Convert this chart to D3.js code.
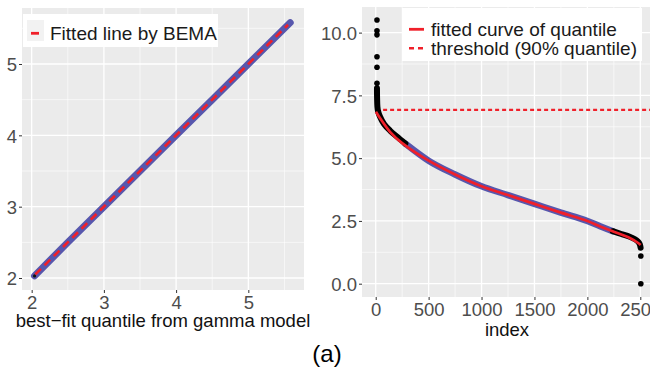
<!DOCTYPE html>
<html><head><meta charset="utf-8">
<script src="https://cdn.jsdelivr.net/npm/d3@7"></script>
<style>
body{margin:0;background:#fff}
svg{display:block}
text{font-family:"Liberation Sans",Arial,Helvetica,sans-serif}
</style>
</head><body>
<svg id="c" width="650" height="373"></svg>
<script>
// ---------- Left panel data (Q-Q against gamma model) ----------
const qqX = [2.04, 2.5, 3.0, 3.5, 4.0, 4.5, 5.0, 5.58];
const qqY = [2.03, 2.5, 3.0, 3.5, 4.0, 4.5, 5.0, 5.58];
const qqFitX = [2.05, 5.55];
const qqFitY = [2.05, 5.55];
const qqXTicks = [2, 3, 4, 5];
const qqYTicks = [2, 3, 4, 5];
const qqXMinor = [2.5, 3.5, 4.5, 5.5];
const qqYMinor = [2.5, 3.5, 4.5, 5.5];
const qqLegend = ["Fitted line by BEMA"];
const qqXTitle = "best\u2212fit quantile from gamma model";

// ---------- Right panel data (sorted observations vs fitted quantile) ----------
const outHighIdx = [12, 12, 12, 12, 12, 12];
const outHighVal = [10.5, 10.07, 9.91, 9.04, 8.62, 7.98];
const tailTopIdx = [12, 13, 16, 22, 40, 80, 135, 200, 280];
const tailTopVal = [7.78, 7.4, 7.05, 6.88, 6.66, 6.35, 6.1, 5.86, 5.58];
const midIdx = [280, 500, 750, 1000, 1250, 1500, 1750, 2000, 2120, 2240];
const midVal = [5.58, 4.9, 4.35, 3.88, 3.53, 3.18, 2.83, 2.5, 2.29, 2.09];
const tailBotIdx = [2240, 2320, 2400, 2450, 2480, 2495, 2503];
const tailBotVal = [2.09, 1.98, 1.87, 1.77, 1.67, 1.57, 1.43];
const outLowIdx = [2505, 2505];
const outLowVal = [1.1, 0.0];
const fitIdx = [2, 40, 135, 250, 500, 750, 1000, 1250, 1500, 1750, 2000, 2120, 2250, 2405, 2480, 2503];
const fitVal = [6.85, 6.6, 6.05, 5.6, 4.9, 4.35, 3.88, 3.53, 3.18, 2.83, 2.5, 2.28, 2.07, 1.81, 1.62, 1.54];
const threshold = 6.92;
const thresholdFrom = 70;
const thresholdTo = 2650;
const rXTicks = [0, 500, 1000, 1500, 2000, 2500];
const rYTicks = [0, 2.5, 5, 7.5, 10];
const rXMinor = [250, 750, 1250, 1750, 2250];
const rYMinor = [1.25, 3.75, 6.25, 8.75];
const rLegend = ["fitted curve of quantile", "threshold (90% quantile)"];
const rXTitle = "index";
const caption = "(a)";

// ---------- styling ----------
const FS = 18.5, LFS = 19;
const BG = "#EBEBEB", BLUE = "#5757AD", RED = "#F0202A", TICKC = "#4D4D4D";

const svg = d3.select("#c");

function panel(opt) {
  const g = svg.append("g");
  const {x, y, x0, x1, y0, y1} = opt;
  const clipId = opt.id + "clip";
  svg.append("clipPath").attr("id", clipId)
    .append("rect").attr("x", x0).attr("y", y0).attr("width", x1 - x0).attr("height", y1 - y0);
  g.append("rect").attr("x", x0).attr("y", y0).attr("width", x1 - x0).attr("height", y1 - y0).attr("fill", BG);
  const grid = g.append("g").attr("clip-path", `url(#${clipId})`);
  opt.xMinor.forEach(v => grid.append("line").attr("x1", x(v)).attr("x2", x(v)).attr("y1", y0).attr("y2", y1).attr("stroke", "#fff").attr("stroke-width", 0.6));
  opt.yMinor.forEach(v => grid.append("line").attr("y1", y(v)).attr("y2", y(v)).attr("x1", x0).attr("x2", x1).attr("stroke", "#fff").attr("stroke-width", 0.6));
  opt.xTicks.forEach(v => grid.append("line").attr("x1", x(v)).attr("x2", x(v)).attr("y1", y0).attr("y2", y1).attr("stroke", "#fff").attr("stroke-width", 1.3));
  opt.yTicks.forEach(v => grid.append("line").attr("y1", y(v)).attr("y2", y(v)).attr("x1", x0).attr("x2", x1).attr("stroke", "#fff").attr("stroke-width", 1.3));
  const ax = d3.axisBottom(x).tickValues(opt.xTicks).tickFormat(opt.xFmt).tickSize(3).tickPadding(2);
  const axg = g.append("g").attr("transform", `translate(0,${y1})`).call(ax);
  axg.select(".domain").remove();
  axg.selectAll("line").attr("stroke", "#333").attr("stroke-width", 1);
  axg.selectAll("text").attr("fill", TICKC).attr("font-size", FS).attr("font-family", "Liberation Sans, Arial, sans-serif").attr("dy", "0.74em");
  const ay = d3.axisLeft(y).tickValues(opt.yTicks).tickFormat(opt.yFmt).tickSize(3).tickPadding(2);
  const ayg = g.append("g").attr("transform", `translate(${x0},0)`).call(ay);
  ayg.select(".domain").remove();
  ayg.selectAll("line").attr("stroke", "#333").attr("stroke-width", 1);
  ayg.selectAll("text").attr("fill", TICKC).attr("font-size", FS).attr("font-family", "Liberation Sans, Arial, sans-serif").attr("dy", "0.36em");
  return g.append("g").attr("clip-path", `url(#${clipId})`);
}

// ---------- Left panel ----------
{
  const x0 = 22, x1 = 304, y0 = 8, y1 = 290;
  const x = d3.scaleLinear().domain([1.866, 5.771]).range([x0, x1]);
  const y = d3.scaleLinear().domain([1.832, 5.785]).range([y1, y0]);
  const plot = panel({id: "L", x, y, x0, x1, y0, y1, xTicks: qqXTicks, yTicks: qqYTicks, xMinor: qqXMinor, yMinor: qqYMinor,
    xFmt: d3.format("d"), yFmt: d3.format("d")});
  const pts = qqX.map((v, i) => [v, qqY[i]]);
  const line = d3.line().x(d => x(d[0])).y(d => y(d[1]));
  plot.append("path").attr("d", line(pts)).attr("fill", "none").attr("stroke", BLUE)
    .attr("stroke-width", 7).attr("stroke-linecap", "round").attr("stroke-linejoin", "round");
  plot.append("circle").attr("cx", x(qqX[0])).attr("cy", y(qqY[0])).attr("r", 1.6).attr("fill", "#111");
  const fit = qqFitX.map((v, i) => [v, qqFitY[i]]);
  plot.append("path").attr("d", line(fit)).attr("fill", "none").attr("stroke", RED)
    .attr("stroke-width", 2.6).attr("stroke-dasharray", "8,5");
  const lg = svg.append("g");
  lg.append("rect").attr("x", 23).attr("y", 14).attr("width", 195).attr("height", 33).attr("fill", "#fff");
  lg.append("rect").attr("x", 27).attr("y", 20).attr("width", 17).attr("height", 21).attr("fill", "#F2F2F2");
  lg.append("line").attr("x1", 31).attr("x2", 39).attr("y1", 33.3).attr("y2", 33.3).attr("stroke", RED).attr("stroke-width", 2.8);
  lg.append("text").attr("x", 50).attr("y", 40).attr("font-size", LFS).attr("fill", "#1a1a1a").text(qqLegend[0]);
  svg.append("text").attr("x", (x0 + x1) / 2).attr("y", 326.5).attr("text-anchor", "middle").attr("font-size", FS).attr("fill", "#111").text(qqXTitle);
}

// ---------- Right panel ----------
{
  const x0 = 362, x1 = 653, y0 = 7, y1 = 297;
  const x = d3.scaleLinear().domain([-129.5, 2620]).range([x0, x1]);
  const y = d3.scaleLinear().domain([-0.53, 11.02]).range([y1, y0]);
  const plot = panel({id: "R", x, y, x0, x1, y0, y1, xTicks: rXTicks, yTicks: rYTicks, xMinor: rXMinor, yMinor: rYMinor,
    xFmt: d3.format("d"), yFmt: d3.format(".1f")});
  const line = d3.line().x(d => x(d[0])).y(d => y(d[1])).curve(d3.curveMonotoneX);
  const cr = d3.line().x(d => x(d[0])).y(d => y(d[1])).curve(d3.curveCatmullRom);
  const mid = midIdx.map((v, i) => [v, midVal[i]]);
  plot.append("path").attr("d", line(mid)).attr("fill", "none").attr("stroke", BLUE)
    .attr("stroke-width", 6.5).attr("stroke-linecap", "round");
  const top = tailTopIdx.map((v, i) => [v, tailTopVal[i]]);
  plot.append("path").attr("d", cr(top)).attr("fill", "none").attr("stroke", "#000")
    .attr("stroke-width", 6).attr("stroke-linecap", "round").attr("stroke-linejoin", "round");
  const bot = tailBotIdx.map((v, i) => [v, tailBotVal[i]]);
  plot.append("path").attr("d", cr(bot)).attr("fill", "none").attr("stroke", "#000")
    .attr("stroke-width", 6).attr("stroke-linecap", "round").attr("stroke-linejoin", "round");
  outHighIdx.forEach((v, i) => plot.append("circle").attr("cx", x(v)).attr("cy", y(outHighVal[i])).attr("r", 2.8).attr("fill", "#000"));
  outLowIdx.forEach((v, i) => plot.append("circle").attr("cx", x(v)).attr("cy", y(outLowVal[i])).attr("r", 2.8).attr("fill", "#000"));
  const fit = fitIdx.map((v, i) => [v, fitVal[i]]);
  plot.append("path").attr("d", cr(fit)).attr("fill", "none").attr("stroke", RED).attr("stroke-width", 2.7);
  plot.append("line").attr("x1", x(thresholdFrom)).attr("x2", x(thresholdTo)).attr("y1", y(threshold)).attr("y2", y(threshold))
    .attr("stroke", RED).attr("stroke-width", 2.2).attr("stroke-dasharray", "4,3");
  const lg = svg.append("g");
  lg.append("rect").attr("x", 402).attr("y", 8).attr("width", 240).attr("height", 53).attr("fill", "#fff");
  lg.append("line").attr("x1", 409).attr("x2", 424).attr("y1", 29.3).attr("y2", 29.3).attr("stroke", RED).attr("stroke-width", 2.8);
  lg.append("line").attr("x1", 409).attr("x2", 424).attr("y1", 48.3).attr("y2", 48.3).attr("stroke", RED).attr("stroke-width", 2.4).attr("stroke-dasharray", "5,4");
  lg.append("text").attr("x", 431).attr("y", 35.5).attr("font-size", LFS).attr("fill", "#1a1a1a").text(rLegend[0]);
  lg.append("text").attr("x", 431).attr("y", 54.5).attr("font-size", LFS).attr("fill", "#1a1a1a").text(rLegend[1]);
  svg.append("text").attr("x", 507).attr("y", 336).attr("text-anchor", "middle").attr("font-size", FS).attr("fill", "#111").text(rXTitle);
}

svg.append("text").attr("x", 327).attr("y", 362).attr("text-anchor", "middle").attr("font-size", 24).attr("fill", "#000")
  .attr("font-family", "Carlito, 'Liberation Sans', Arial, sans-serif").text(caption);
</script>
</body></html>
